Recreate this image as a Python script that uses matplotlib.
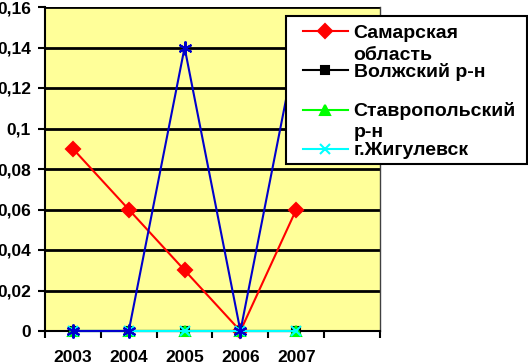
"""
Доля показателя по территориям, 2003-2007 (перерисовка диаграммы Excel).
"""
import matplotlib

matplotlib.use("Agg")
import matplotlib.pyplot as plt
from matplotlib.patches import Rectangle
from matplotlib.ticker import FixedLocator, FuncFormatter

plt.rcParams["font.family"] = ["Liberation Sans", "DejaVu Sans"]
plt.rcParams["font.weight"] = "bold"

YEARS = ["2003", "2004", "2005", "2006", "2007"]
SAMARA = [0.09, 0.06, 0.03, 0.0, 0.06]
VOLZH = [0.0, 0.0, 0.0, 0.0, 0.0]
STAVR = [0.0, 0.0, 0.0, 0.0, 0.0]
ZHIG = [0.0, 0.0, 0.0, 0.0, 0.0]
EXTRA = [0.0, 0.0, 0.14, 0.0, 0.14]  # синяя линия без подписи в легенде

Y_TICKS = [0, 0.02, 0.04, 0.06, 0.08, 0.1, 0.12, 0.14, 0.16]

SERIES = [
    ("Самарская", "область", SAMARA, "#FF0000", "D", 7),
    ("Волжский р-н", None, VOLZH, "#000000", "s", 6),
    ("Ставропольский", "р-н", STAVR, "#00FF00", "^", 7),
    ("г.Жигулевск", None, ZHIG, "#00FFFF", "x", 7),
]

W, H = 528, 362
FS = 14


def fmt_y(v, _pos):
    s = f"{v:.2f}".rstrip("0").rstrip(".")
    return s.replace(".", ",")


def main() -> None:
    fig = plt.figure(figsize=(W / 100, H / 100), dpi=100)
    ax = fig.add_axes([45 / W, 31 / H, 335 / W, 324 / H])
    ax.set_facecolor("#FFFF99")

    x = list(range(len(YEARS)))
    handles = []
    for label, _extra, vals, color, marker, ms in SERIES:
        (h,) = ax.plot(x, vals, color=color, lw=1.5, marker=marker, ms=ms,
                       mec=color, mew=1.5, label=label, zorder=3, clip_on=False)
        handles.append(h)
    ax.plot(x, EXTRA, color="#0000CC", lw=1.5, marker=(6, 2, 0), ms=10,
            mew=1.5, zorder=3, clip_on=False)

    ax.set_xlim(-0.5, len(YEARS) + 0.5)
    ax.set_ylim(0, 0.16)
    ax.set_xticks(x)
    ax.set_xticklabels(YEARS)
    ax.xaxis.set_minor_locator(FixedLocator([i - 0.5 for i in range(len(YEARS) + 2)]))
    ax.tick_params(axis="x", which="major", length=0, pad=14, labelsize=12.5)
    ax.tick_params(axis="x", which="minor", length=5, width=1.5, direction="out")
    ax.set_yticks(Y_TICKS)
    ax.yaxis.set_major_formatter(FuncFormatter(fmt_y))
    ax.tick_params(axis="y", length=5, width=1.5, direction="out", pad=5, labelsize=12.5)

    ax.grid(True, axis="y", color="black", lw=2)
    ax.set_axisbelow(True)
    ax.spines["top"].set_visible(False)
    ax.spines["left"].set_linewidth(1.5)
    ax.spines["bottom"].set_linewidth(1.5)
    ax.spines["right"].set_color("#404040")
    ax.spines["right"].set_linewidth(1)

    # рамка легенды отдельно - она шире содержимого
    fig.add_artist(Rectangle((286 / W, 1 - 164 / H), 241 / W, 148 / H,
                             transform=fig.transFigure, facecolor="white",
                             edgecolor="black", lw=1.5, zorder=4))
    leg = fig.legend(handles=handles, loc="upper left",
                     bbox_to_anchor=(303 / W, 1 - 24 / H),
                     frameon=False, fontsize=FS, handlelength=2.3,
                     handletextpad=0.3, labelspacing=1.1, borderpad=0,
                     borderaxespad=0)
    leg.set_zorder(5)
    for t in leg.get_texts():
        t.set_fontweight("bold")

    # перенос длинных подписей - вторая строка наезжает на следующую запись
    fig.canvas.draw()
    inv = fig.transFigure.inverted()
    for t, (_label, extra, *_rest) in zip(leg.get_texts(), SERIES):
        if not extra:
            continue
        bb = t.get_window_extent()
        fx, fy = inv.transform((bb.x0, bb.y1))
        fig.text(fx, fy - 22 / H, extra, fontsize=FS, fontweight="bold",
                 va="top", ha="left", zorder=6)

    fig.savefig("out.png", dpi=100)
    plt.close(fig)


if __name__ == "__main__":
    main()
